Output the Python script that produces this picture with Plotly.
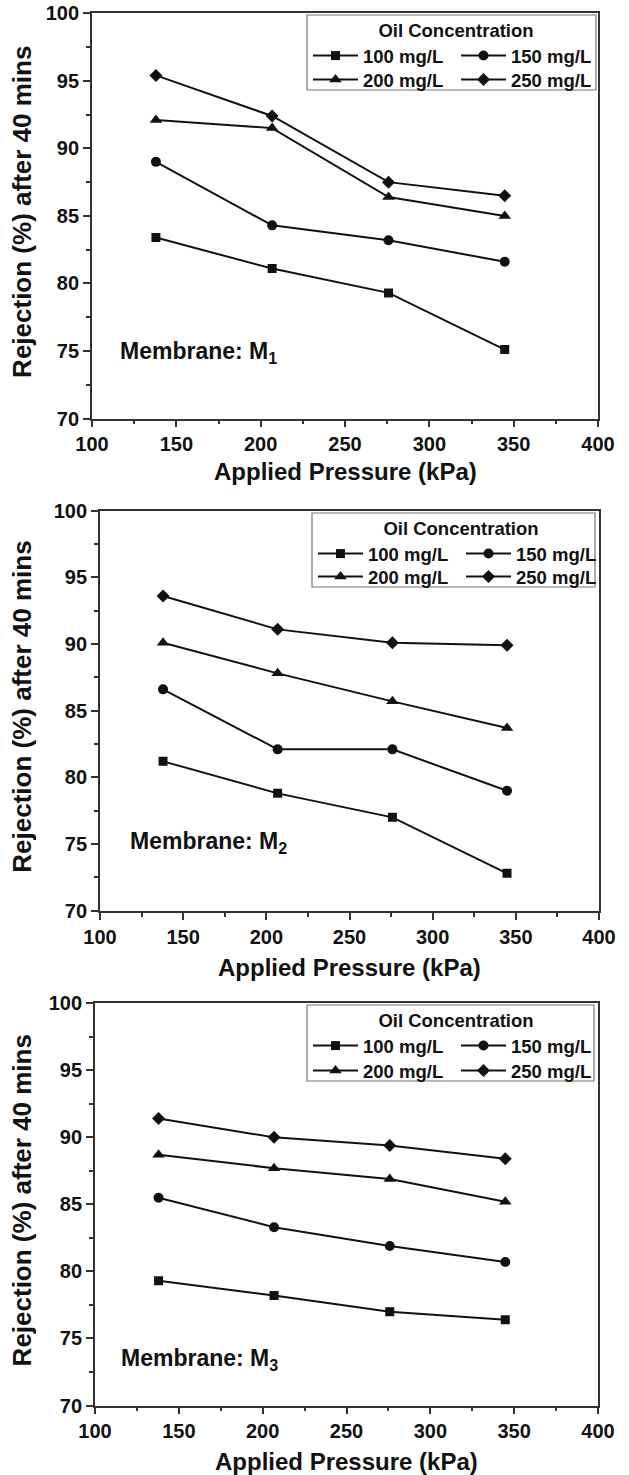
import plotly.graph_objects as go

# Figure size in pixels
W, H = 629, 1475
FONT = "Liberation Sans, Arial, Helvetica, sans-serif"
INK = "#111111"
AXIS = "#333333"

# Applied pressure (kPa) = 20, 30, 40, 50 psi
pressure_kpa = [137.9, 206.8, 275.8, 344.7]
concentration_labels = ["100 mg/L", "150 mg/L", "200 mg/L", "250 mg/L"]
marker_symbols = ["square", "circle", "triangle-up", "diamond"]
marker_sizes = [9, 10, 11, 10]

# Rejection (%) after 40 min, membrane M1
m1_100 = [83.4, 81.1, 79.3, 75.1]
m1_150 = [89.0, 84.3, 83.2, 81.6]
m1_200 = [92.1, 91.5, 86.4, 85.0]
m1_250 = [95.4, 92.4, 87.5, 86.5]

# Membrane M2
m2_100 = [81.2, 78.8, 77.0, 72.8]
m2_150 = [86.6, 82.1, 82.1, 79.0]
m2_200 = [90.1, 87.8, 85.7, 83.7]
m2_250 = [93.6, 91.1, 90.1, 89.9]

# Membrane M3
m3_100 = [79.3, 78.2, 77.0, 76.4]
m3_150 = [85.5, 83.3, 81.9, 80.7]
m3_200 = [88.7, 87.7, 86.9, 85.2]
m3_250 = [91.4, 90.0, 89.4, 88.4]

membranes = ["1", "2", "3"]
series_by_membrane = [
    [m1_100, m1_150, m1_200, m1_250],
    [m2_100, m2_150, m2_200, m2_250],
    [m3_100, m3_150, m3_200, m3_250],
]

# Panel geometry in pixels: plot-area left, right, top, bottom
panels = [
    dict(l=92, r=598, t=13.3, b=418.5, box=(307, 596, 15, 90), note=(115.4, 74.9), xt=53),
    dict(l=100, r=599, t=510.7, b=910.7, box=(312, 595, 513, 587), note=(116.8, 75.1), xt=57),
    dict(l=95, r=598, t=1003.3, b=1405.5, box=(307, 594, 1005, 1081), note=(114.3, 73.4), xt=56),
]


def px_x(x):
    return x / W


def px_y(y):
    return 1 - y / H


fig = go.Figure()
layout = dict(
    width=W,
    height=H,
    margin=dict(l=0, r=0, t=0, b=0, autoexpand=False),
    paper_bgcolor="white",
    plot_bgcolor="white",
    font=dict(family=FONT, color=INK),
    showlegend=True,
)
annotations = []
shapes = []

for i, (panel, series, mem) in enumerate(zip(panels, series_by_membrane, membranes)):
    n = "" if i == 0 else str(i + 1)
    xa, ya = "x" + n, "y" + n
    leg_a = "legend" if i == 0 else f"legend{2 * i + 1}"
    leg_b = f"legend{2 * i + 2}"

    for k, (vals, label, sym, size) in enumerate(
        zip(series, concentration_labels, marker_symbols, marker_sizes)
    ):
        fig.add_trace(
            go.Scatter(
                x=pressure_kpa,
                y=vals,
                name=label,
                mode="lines+markers",
                line=dict(color=INK, width=2),
                marker=dict(symbol=sym, size=size, color=INK),
                xaxis=xa,
                yaxis=ya,
                legend=leg_a if k < 2 else leg_b,
            )
        )

    tick_common = dict(
        ticks="outside",
        ticklen=7,
        tickwidth=1.6,
        tickcolor=AXIS,
        showline=True,
        linecolor=AXIS,
        linewidth=1.8,
        mirror=True,
        showgrid=False,
        zeroline=False,
        tickfont=dict(family=FONT, size=20, color=INK, weight="bold"),
    )
    layout["xaxis" + n] = dict(
        domain=[px_x(panel["l"]), px_x(panel["r"])],
        anchor=ya,
        range=[100, 400],
        tick0=100,
        dtick=50,
        minor=dict(ticks="outside", ticklen=4, tickwidth=1.6, tickcolor=AXIS, tick0=100, dtick=25),
        **tick_common,
    )
    layout["yaxis" + n] = dict(
        domain=[px_y(panel["b"]), px_y(panel["t"])],
        anchor=xa,
        range=[70, 100],
        tick0=70,
        dtick=5,
        minor=dict(ticks="outside", ticklen=4, tickwidth=1.6, tickcolor=AXIS, tick0=70, dtick=2.5),
        **tick_common,
    )

    # Legend: two single-row legends inside one framed box
    bl, br, bt, bb = panel["box"]
    legend_style = dict(
        orientation="h",
        xanchor="left",
        yanchor="top",
        x=px_x(bl + 1),
        bgcolor="rgba(0,0,0,0)",
        borderwidth=0,
        itemwidth=45,
        entrywidth=88,
        itemclick=False,
        font=dict(family=FONT, size=18.5, color=INK, weight="bold"),
    )
    layout[leg_a] = dict(
        legend_style,
        y=px_y(bt - 2),
        title=dict(
            text="Oil Concentration",
            side="top center",
            font=dict(family=FONT, size=18.5, color=INK, weight="bold"),
        ),
    )
    layout[leg_b] = dict(legend_style, y=px_y(bb - 29))
    shapes.append(
        dict(
            type="rect",
            xref="paper",
            yref="paper",
            x0=px_x(bl),
            x1=px_x(br),
            y0=px_y(bb),
            y1=px_y(bt),
            line=dict(color="#777777", width=1.2),
            fillcolor="rgba(0,0,0,0)",
        )
    )

    # Axis titles
    annotations.append(
        dict(
            text="Applied Pressure (kPa)",
            xref="paper",
            yref="paper",
            x=px_x((panel["l"] + panel["r"]) / 2),
            y=px_y(panel["b"] + panel["xt"]),
            xanchor="center",
            yanchor="middle",
            showarrow=False,
            font=dict(family=FONT, size=24, color=INK, weight="bold"),
        )
    )
    annotations.append(
        dict(
            text="Rejection (%) after 40 mins",
            xref="paper",
            yref="paper",
            x=px_x(22),
            y=px_y((panel["t"] + panel["b"]) / 2 - 4),
            textangle=-90,
            xanchor="center",
            yanchor="middle",
            showarrow=False,
            font=dict(family=FONT, size=26, color=INK, weight="bold"),
        )
    )
    # Membrane label
    nx, ny = panel["note"]
    annotations.append(
        dict(
            text=f"Membrane: M<sub>{mem}</sub>",
            xref=xa,
            yref=ya,
            x=nx,
            y=ny,
            xanchor="left",
            yanchor="middle",
            showarrow=False,
            font=dict(family=FONT, size=23, color=INK, weight="bold"),
        )
    )

layout["annotations"] = annotations
layout["shapes"] = shapes
fig.update_layout(**layout)
fig.write_html("out.html")
